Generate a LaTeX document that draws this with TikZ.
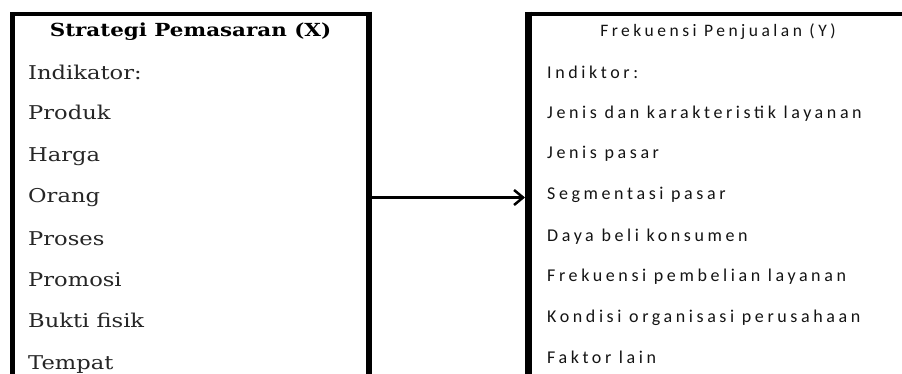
\documentclass[tikz,border=0pt]{standalone}
\usepackage{fontspec}
\setmainfont[FakeStretch=1.19]{DejaVu Serif}
\newfontfamily\rowsans[LetterSpace=20]{Carlito}
\usetikzlibrary{arrows.meta}
\tikzset{
  frame/.style={line width=4.5pt, black},
  xitem/.style={anchor=base west, inner sep=0pt, font=\fontsize{19}{22}\selectfont, text=black!85},
  yitem/.style={anchor=base west, inner sep=0pt, font=\rowsans\fontsize{18}{21}\selectfont, text=black!92},
  link/.style={line width=3pt, -{Straight Barb[length=9pt, width=15pt, line width=2.5pt]}}
}
\begin{document}
\begin{tikzpicture}[x=1pt, y=-1pt]
  \useasboundingbox (0,0) rectangle (902,374);
  \fill[white] (0,0) rectangle (902,374);

  % left box: variable X (open at the bottom)
  \draw[frame] (12.5,376) -- (12.5,14) -- (369,14);
  \draw[frame, line width=6pt] (369,11.75) -- (369,376);
  % right box: variable Y (open at bottom and right)
  \draw[frame] (528.5,14) -- (904,14);
  \draw[frame, line width=6.5pt] (528.5,11.75) -- (528.5,376);

  % left column
  \node[xitem, anchor=base, font=\bfseries\fontsize{18}{21}\selectfont, text=black] (xt) at (190.5,37) {Strategi Pemasaran (X)};
  \node[xitem] (x0) at (28,80)  {Indikator:};
  \node[xitem] (x1) at (28,120) {Produk};
  \node[xitem] (x2) at (28,162) {Harga};
  \node[xitem] (x3) at (28,203) {Orang};
  \node[xitem] (x4) at (28,245) {Proses};
  \node[xitem] (x5) at (28,286) {Promosi};
  \node[xitem] (x6) at (28,327) {Bukti fisik};
  \node[xitem] (x7) at (28,369) {Tempat};

  % right column
  \node[yitem, anchor=base, font=\rowsans\fontsize{17.5}{20}\selectfont] (yt) at (718,37) {Frekuensi Penjualan (Y)};
  \node[yitem] (y0) at (547,79)  {Indiktor:};
  \node[yitem] (y1) at (547,119) {Jenis dan karakteristik layanan};
  \node[yitem] (y2) at (547,159) {Jenis pasar};
  \node[yitem] (y3) at (547,200) {Segmentasi pasar};
  \node[yitem] (y4) at (547,241) {Daya beli konsumen};
  \node[yitem] (y5) at (547,281) {Frekuensi pembelian layanan};
  \node[yitem] (y6) at (547,322) {Kondisi organisasi perusahaan};
  \node[yitem] (y7) at (547,363) {Faktor lain};

  % connector between the two boxes
  \coordinate (xa) at (372,197.5);
  \coordinate (ya) at (525,197.5);
  \draw[link] (xa) -- (ya);
\end{tikzpicture}
\end{document}
